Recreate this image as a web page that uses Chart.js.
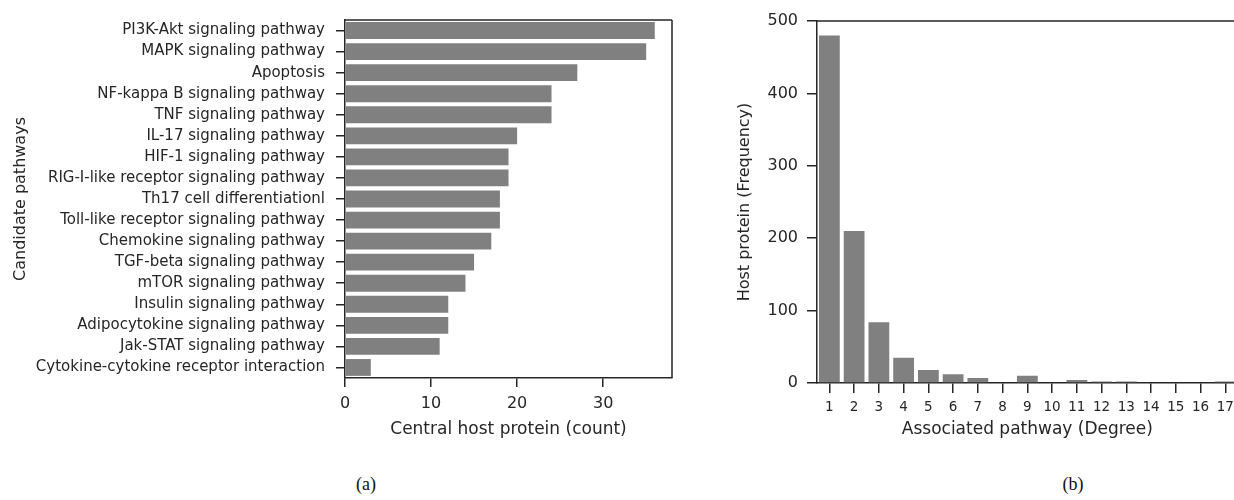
<!DOCTYPE html>
<html>
<head>
<meta charset="utf-8">
<script src="https://cdn.jsdelivr.net/npm/chart.js@4.4.1/dist/chart.umd.min.js"></script>
<style>
    html, body { margin: 0; padding: 0; background: #fff; }
    body { width: 1234px; height: 500px; overflow: hidden; position: relative; }
    .panel { position: absolute; top: 0; }
    #pathwayPanel { left: 0; width: 700px; height: 450px; }
    #degreePanel { left: 730px; width: 510px; height: 450px; }
    .caption {
        position: absolute; top: 474px;
        font-family: "Liberation Serif", "DejaVu Serif", serif;
        font-size: 18px; color: #111;
        transform: translateX(-50%);
    }
</style>
</head>
<body>
<div class="panel" id="pathwayPanel"><canvas id="pathwayChart" width="700" height="450"></canvas></div>
<div class="panel" id="degreePanel"><canvas id="degreeChart" width="510" height="450"></canvas></div>
<div class="caption" style="left:366px">(a)</div>
<div class="caption" style="left:1073px">(b)</div>

<script>
// (a) candidate pathways
const pathways = [
    'PI3K-Akt signaling pathway',
    'MAPK signaling pathway',
    'Apoptosis',
    'NF-kappa B signaling pathway',
    'TNF signaling pathway',
    'IL-17 signaling pathway',
    'HIF-1 signaling pathway',
    'RIG-I-like receptor signaling pathway',
    'Th17 cell differentiationl',
    'Toll-like receptor signaling pathway',
    'Chemokine signaling pathway',
    'TGF-beta signaling pathway',
    'mTOR signaling pathway',
    'Insulin signaling pathway',
    'Adipocytokine signaling pathway',
    'Jak-STAT signaling pathway',
    'Cytokine-cytokine receptor interaction'
];
const pathwayCounts = [36, 35, 27, 24, 24, 20, 19, 19, 18, 18, 17, 15, 14, 12, 12, 11, 3];
const countTicks = [0, 10, 20, 30];

// (b) degree distribution
const degrees = ['1', '2', '3', '4', '5', '6', '7', '8', '9', '10', '11', '12', '13', '14', '15', '16', '17'];
const degreeFreq = [480, 210, 84, 35, 18, 12, 7, 0, 10, 0, 4, 2, 2, 0, 0, 0, 2];
const freqTicks = [0, 100, 200, 300, 400, 500];

const INK = '#262626';
const BAR = '#808080';

Chart.defaults.font.family = '"DejaVu Sans", sans-serif';
Chart.defaults.color = INK;
Chart.defaults.animation = false;

// matplotlib-like spines on the sides the axes do not cover
const spines = {
    id: 'spines',
    afterDraw(chart, args, opts) {
        const {ctx, chartArea: a} = chart;
        ctx.save();
        ctx.strokeStyle = INK;
        ctx.lineWidth = 1.5;
        ctx.beginPath();
        if (opts.top) { ctx.moveTo(a.left, a.top); ctx.lineTo(a.right, a.top); }
        if (opts.right) { ctx.moveTo(a.right, a.top); ctx.lineTo(a.right, a.bottom); }
        ctx.stroke();
        ctx.restore();
    }
};

function fixSize(prop, value) {
    return (scale) => { scale[prop] = value; };
}

new Chart(document.getElementById('pathwayChart'), {
    type: 'bar',
    data: {
        labels: pathways,
        datasets: [{
            data: pathwayCounts,
            backgroundColor: BAR,
            barPercentage: 0.8,
            categoryPercentage: 1
        }]
    },
    plugins: [spines],
    options: {
        responsive: false,
        indexAxis: 'y',
        layout: { padding: { top: 15, right: 28, left: 0, bottom: 0 } },
        plugins: {
            legend: { display: false },
            tooltip: { enabled: false },
            spines: { top: true, right: true }
        },
        scales: {
            x: {
                min: 0,
                max: 38,
                afterFit: fixSize('height', 72),
                afterBuildTicks: (scale) => {
                    scale.ticks = countTicks.map(v => ({ value: v }));
                },
                ticks: { font: { size: 16 }, padding: 7, color: INK },
                grid: { drawOnChartArea: false, drawTicks: true, tickLength: 9, color: INK, lineWidth: 1.5 },
                border: { display: true, color: INK, width: 1.5 },
                title: {
                    display: true,
                    text: 'Central host protein (count)',
                    font: { size: 17 },
                    color: INK,
                    padding: { top: 0, bottom: 10 }
                }
            },
            y: {
                afterFit: fixSize('width', 345),
                ticks: { font: { size: 15 }, padding: 11, color: INK, autoSkip: false },
                grid: { offset: false, drawOnChartArea: false, drawTicks: true, tickLength: 9, color: INK, lineWidth: 1.5 },
                border: { display: true, color: INK, width: 1.5 },
                title: {
                    display: true,
                    text: 'Candidate pathways',
                    font: { size: 16 },
                    color: INK,
                    padding: { top: 11, bottom: 0 }
                }
            }
        }
    }
});

new Chart(document.getElementById('degreeChart'), {
    type: 'bar',
    data: {
        labels: degrees,
        datasets: [{
            data: degreeFreq,
            backgroundColor: BAR,
            barPercentage: 0.84,
            categoryPercentage: 1
        }]
    },
    plugins: [spines],
    options: {
        responsive: false,
        layout: { padding: { top: 21, right: 2, left: 0, bottom: 0 } },
        plugins: {
            legend: { display: false },
            tooltip: { enabled: false },
            spines: { top: true, right: true }
        },
        scales: {
            x: {
                afterFit: fixSize('height', 67),
                ticks: { font: { size: 13.5 }, padding: 6, color: INK, autoSkip: false, maxRotation: 0 },
                grid: { offset: false, drawOnChartArea: false, drawTicks: true, tickLength: 10, color: INK, lineWidth: 1.5 },
                border: { display: true, color: INK, width: 1.5 },
                title: {
                    display: true,
                    text: 'Associated pathway (Degree)',
                    font: { size: 17 },
                    color: INK,
                    padding: { top: 0, bottom: 10 }
                }
            },
            y: {
                min: 0,
                max: 500,
                afterFit: fixSize('width', 87),
                afterBuildTicks: (scale) => {
                    scale.ticks = freqTicks.map(v => ({ value: v }));
                },
                ticks: { font: { size: 16 }, padding: 9, color: INK },
                grid: { drawOnChartArea: false, drawTicks: true, tickLength: 10, color: INK, lineWidth: 1.5 },
                border: { display: true, color: INK, width: 1.5 },
                title: {
                    display: true,
                    text: 'Host protein (Frequency)',
                    font: { size: 16 },
                    color: INK,
                    padding: { top: 5, bottom: 0 }
                }
            }
        }
    }
});
</script>
</body>
</html>
